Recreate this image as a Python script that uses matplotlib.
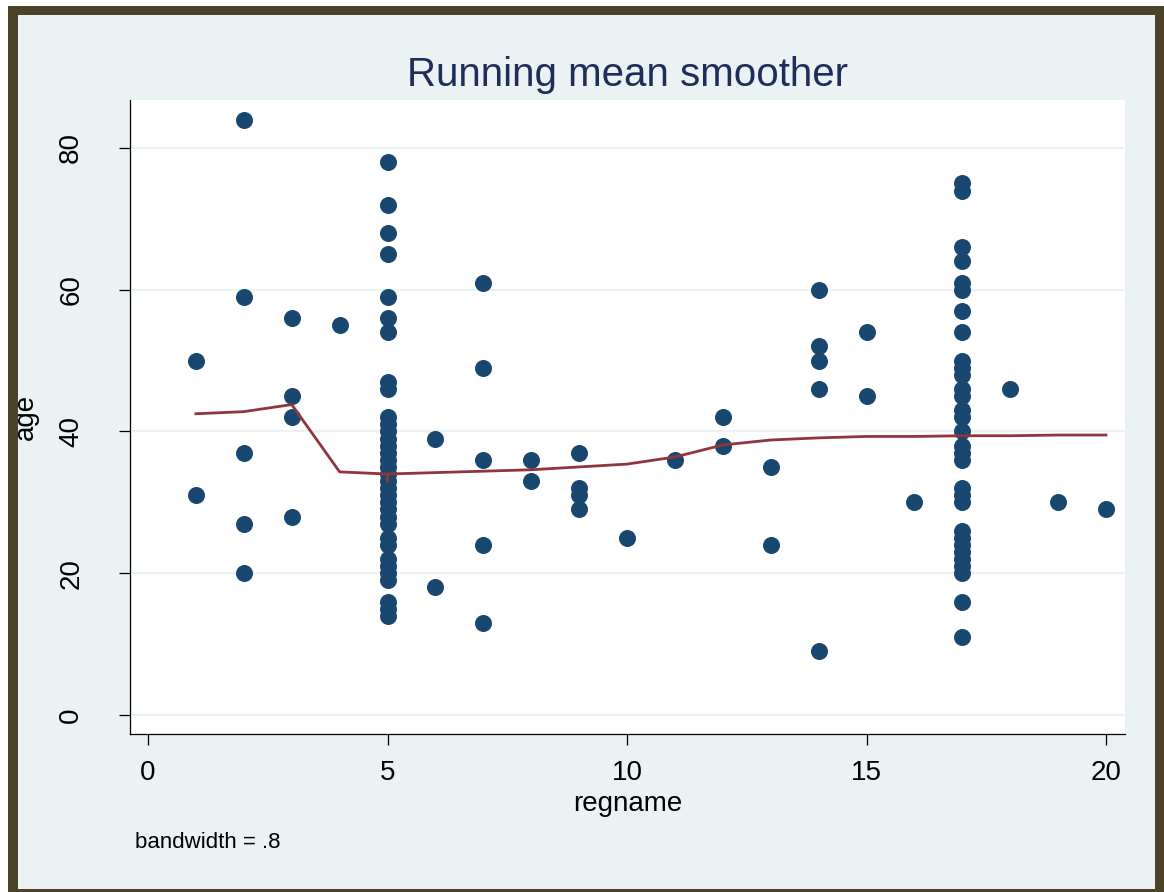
import numpy as np
import matplotlib.pyplot as plt
from matplotlib.patches import Rectangle

plt.rcParams['font.family'] = ['Liberation Sans', 'DejaVu Sans']

# значения age по каждому regname
reg_ids = [1, 2, 3, 4, 5, 6, 7, 8, 9, 10, 11, 12, 13, 14, 15, 16, 17, 18, 19, 20]
ages = [
    [50, 31],
    [84, 59, 37, 27, 20],
    [56, 45, 42, 28],
    [55],
    [78, 72, 68, 65, 59, 56, 54, 47, 46, 42, 41, 40, 39, 38, 37, 36, 35, 34, 33,
     32, 31, 30, 29, 28, 27, 25, 24, 22, 21, 20, 19, 16, 15, 14],
    [39, 18],
    [61, 49, 36, 24, 13],
    [36, 33],
    [37, 32, 31, 29],
    [25],
    [36],
    [42, 38],
    [35, 24],
    [60, 52, 50, 46, 9],
    [54, 45],
    [30],
    [75, 74, 66, 64, 61, 60, 57, 54, 50, 49, 48, 46, 45, 43, 42, 40, 38, 37, 36,
     32, 31, 30, 26, 25, 24, 23, 22, 21, 20, 16, 11],
    [46],
    [30],
    [29],
]

# сглаженная кривая (running mean)
smooth_x = [1, 2, 3, 4, 5, 5, 5, 6, 7, 8, 9, 10, 11, 12, 13, 14, 15, 16, 17, 18, 19, 20]
smooth_y = [42.5, 42.8, 43.8, 34.3, 34.0, 33.0, 34.0, 34.2, 34.4, 34.6, 35.0, 35.4,
            36.4, 38.1, 38.8, 39.1, 39.3, 39.3, 39.4, 39.4, 39.5, 39.5]

xticks = [0, 5, 10, 15, 20]
yticks = [0, 20, 40, 60, 80]

W, H = 1164, 892
fig = plt.figure(figsize=(W / 100, H / 100), dpi=100)
fig.patch.set_facecolor('white')

# рамка
fig.patches.append(Rectangle((8 / W, 0), 1 - 8 / W, 1 - 6 / H, transform=fig.transFigure,
                             facecolor='#4B4429', edgecolor='none', zorder=-2))
fig.patches.append(Rectangle((18 / W, 3 / H), (1155 - 18) / W, (889 - 15) / H,
                             transform=fig.transFigure, facecolor='#EAF2F3',
                             edgecolor='none', zorder=-1))

ax = fig.add_axes([130 / W, 1 - 734 / H, (1124.7 - 130) / W, (734 - 100) / H])
ax.set_facecolor('white')

px = []
py = []
for r, vals in zip(reg_ids, ages):
    for v in vals:
        px.append(r)
        py.append(v)

ax.scatter(px, py, s=150, c='#1A476F', linewidths=0, zorder=3)
ax.plot(smooth_x, smooth_y, c='#90353B', lw=2.0, zorder=4)

ax.set_xlim(-0.376, 20.39)
ax.set_ylim(-2.68, 86.77)
ax.set_xticks(xticks)
ax.set_yticks(yticks)
ax.set_yticklabels([str(t) for t in yticks], rotation=90, va='center')
ax.tick_params(axis='both', labelsize=20, length=8, width=0.9, colors='black')
ax.tick_params(axis='x', pad=11)
ax.tick_params(axis='y', pad=25)
ax.grid(axis='y', color='#EAF2F3', lw=1.6, zorder=0)
ax.set_axisbelow(True)
for s in ['top', 'right']:
    ax.spines[s].set_visible(False)
for s in ['left', 'bottom']:
    ax.spines[s].set_linewidth(0.9)

ax.set_xlabel('regname', fontsize=20, labelpad=3)
ax.set_ylabel('age', fontsize=20)
ax.yaxis.set_label_coords(-0.092, 0.5)
ax.set_title('Running mean smoother', fontsize=29, color='#1E2D5A', pad=10)

fig.text(135 / W, 1 - 848 / H, 'bandwidth = .8', fontsize=16, va='baseline')

plt.savefig('out.png', dpi=100, facecolor=fig.get_facecolor())
